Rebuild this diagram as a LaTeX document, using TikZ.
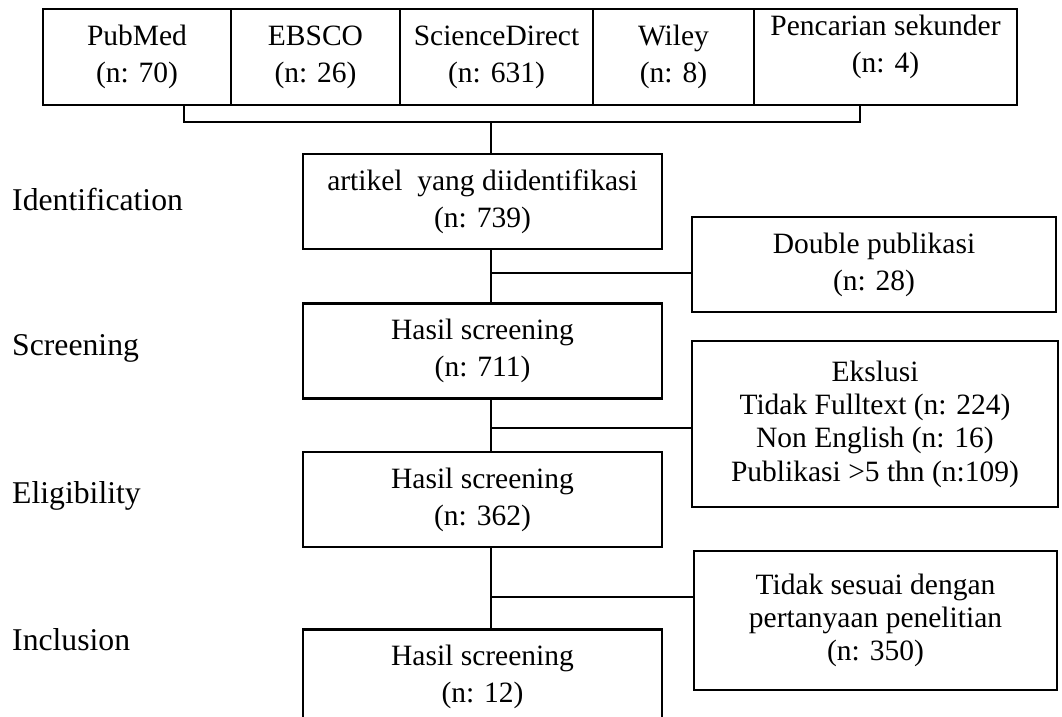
\documentclass[tikz,border=0pt]{standalone}
\usepackage{fontspec}
\setmainfont{Liberation Serif}
\begin{document}
\begin{tikzpicture}[x=1pt,y=-1pt,
  box/.style={draw, line width=2.6pt, inner sep=0pt, align=center, font=\fontsize{29.5}{37}\selectfont},
  boxtext/.style={inner sep=0pt, align=center, font=\fontsize{29.5}{37}\selectfont},
  tight/.style={font=\fontsize{29.5}{33.3}\selectfont},
  conn/.style={line width=1.3pt},
  lbl/.style={anchor=base west, inner sep=0pt, font=\fontsize{31.7}{38}\selectfont}]
\useasboundingbox (0,0) rectangle (1062,716);
\clip (0,0) rectangle (1062,716);

% top row of sources
\node[box, minimum width=188pt, minimum height=96pt] (pm) at (137,57) {PubMed\\(n: 70)};
\node[box, minimum width=169pt, minimum height=96pt] (eb) at (315.5,57) {EBSCO\\(n: 26)};
\node[box, minimum width=193pt, minimum height=96pt] (sd) at (496.5,57) {ScienceDirect\\(n: 631)};
\node[box, minimum width=161pt, minimum height=96pt] (wi) at (673.5,57) {Wiley\\(n: 8)};
\node[box, minimum width=263pt, minimum height=96pt] (pc) at (885.5,57) {};
\node[boxtext, anchor=north] (pct) at (885.5,15) {Pencarian sekunder\\(n: 4)};

% stage labels
\node[lbl] (lid) at (12,210) {Identification};
\node[lbl] (lsc) at (12,355) {Screening};
\node[lbl] (lel) at (12,503) {Eligibility};
\node[lbl] (lin) at (12,650) {Inclusion};

% main column
\node[box, minimum width=359pt, minimum height=95pt] (art) at (482.5,201.5) {artikel\ \ yang diidentifikasi\\(n: 739)};
\node[box, minimum width=359pt, minimum height=95pt] (s1) at (482.5,351) {Hasil screening\\(n: 711)};
\node[box, minimum width=359pt, minimum height=95pt] (s2) at (482.5,499.5) {Hasil screening\\(n: 362)};
\node[box, minimum width=359pt, minimum height=95pt] (s3) at (482.5,677) {Hasil screening\\(n: 12)};

% side boxes
\node[box, minimum width=364pt, minimum height=95pt] (dbl) at (874,264.5) {Double publikasi\\(n: 28)};
\node[box, tight, minimum width=366pt, minimum height=166pt] (eks) at (875,424) {Ekslusi\\Tidak Fulltext (n: 224)\\Non English (n: 16)\\Publikasi >5 thn (n:109)};
\node[box, tight, minimum width=363pt, minimum height=139pt] (tds) at (875.5,620.5) {Tidak sesuai dengan\\pertanyaan penelitian\\(n: 350)};

% connectors
\coordinate (bl) at (184,122);
\coordinate (br) at (860,122);
\coordinate (bc) at (491,122);
\coordinate (v) at (491,0);
\coordinate (b1) at (491,273);
\coordinate (b2) at (491,428);
\coordinate (b3) at (491,597);
\draw[conn] (bl |- pm.south) -- (bl) -- (br) -- (br |- pc.south);
\draw[conn] (bc) -- (bc |- art.north);
\draw[conn] (v |- art.south) -- (v |- s1.north);
\draw[conn] (v |- s1.south) -- (v |- s2.north);
\draw[conn] (v |- s2.south) -- (v |- s3.north);
\draw[conn] (b1) -- (b1 -| dbl.west);
\draw[conn] (b2) -- (b2 -| eks.west);
\draw[conn] (b3) -- (b3 -| tds.west);
\end{tikzpicture}
\end{document}
